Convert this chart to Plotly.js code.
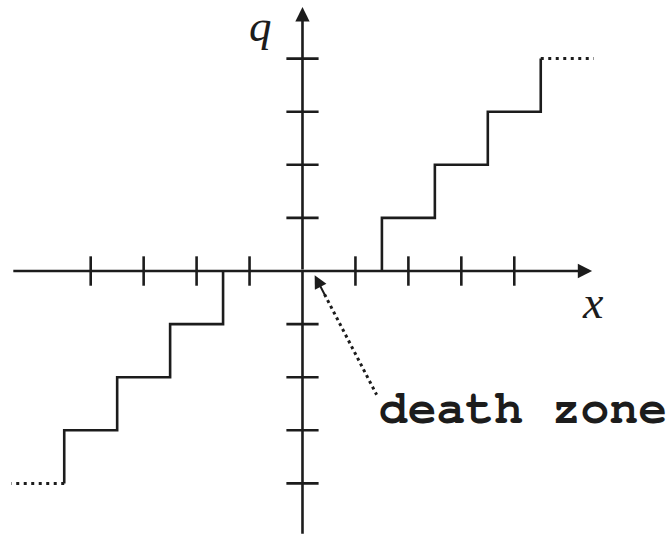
<!DOCTYPE html>
<html>
<head>
<meta charset="utf-8">
<script src="https://cdn.plot.ly/plotly-3.0.1.min.js"></script>
<style>
  html, body { margin: 0; padding: 0; background: #fff; }
  #chart { width: 670px; height: 537px; }
</style>
</head>
<body>
<div id="chart"></div>
<script>
// Quantizer staircase q(x) with a dead band around zero
const xTicks = [-4, -3, -2, -1, 1, 2, 3, 4];
const qTicks = [-4, -3, -2, -1, 1, 2, 3, 4];
const riseX = [1.5, 2.5, 3.5, 4.5];     // x where q steps up (positive side)
const riseLevel = [1, 2, 3, 4];         // q level after each step
const tailEnd = 5.5;                    // dotted continuation ends here
const xAxisSpan = [-5.49, 5.47];
const qAxisSpan = [-4.95, 4.97];
const zoneTip = [0.23, -0.08];          // arrow tip near the origin
const zoneTail = [1.40, -2.33];         // arrow tail by the label
const zoneLabel = 'death zone';

const ink = '#1c1c1c';
const lw = 2.6;

// staircase, positive side, drawn with horizontal-then-vertical steps
const posX = [riseX[0]].concat(riseX);
const posY = [0].concat(riseLevel);
const negX = posX.map(v => -v);
const negY = posY.map(v => -v);
const lastX = riseX[riseX.length - 1];
const lastQ = riseLevel[riseLevel.length - 1];

const traces = [
  { x: posX, y: posY, mode: 'lines', line: { shape: 'hv', color: ink, width: lw } },
  { x: negX, y: negY, mode: 'lines', line: { shape: 'hv', color: ink, width: lw } },
  { x: [lastX, tailEnd], y: [lastQ, lastQ], mode: 'lines',
    line: { color: ink, width: 3, dash: '3px,4.5px' } },
  { x: [-lastX, -tailEnd], y: [-lastQ, -lastQ], mode: 'lines',
    line: { color: ink, width: 3, dash: '3px,4.5px' } },
  // q axis line below the arrow
  { x: [0, 0], y: [qAxisSpan[0], 0], mode: 'lines', line: { color: ink, width: lw } },
  // tick marks crossing the axes
  { x: xTicks, y: xTicks.map(() => 0), mode: 'markers',
    marker: { symbol: 'line-ns-open', size: 21, color: ink, line: { color: ink, width: lw } } },
  { x: qTicks.map(() => 0), y: qTicks, mode: 'markers',
    marker: { symbol: 'line-ew-open', size: 23, color: ink, line: { color: ink, width: lw } } }
];

// dotted pointer from the label toward the origin
const headFrac = 0.16;
const dotStart = [zoneTip[0] + headFrac * (zoneTail[0] - zoneTip[0]),
                  zoneTip[1] + headFrac * (zoneTail[1] - zoneTip[1])];
traces.push({ x: [dotStart[0], zoneTail[0]], y: [dotStart[1], zoneTail[1]], mode: 'lines',
  line: { color: ink, width: 3, dash: '3px,3.5px' } });

const annotations = [
  // x axis with arrowhead
  { x: xAxisSpan[1], y: 0, ax: xAxisSpan[0], ay: 0, axref: 'x', ayref: 'y', xref: 'x', yref: 'y',
    text: '', showarrow: true, arrowhead: 2, arrowsize: 1.1, arrowwidth: lw, arrowcolor: ink, standoff: 0 },
  // q axis with arrowhead
  { x: 0, y: qAxisSpan[1], ax: 0, ay: 0, axref: 'x', ayref: 'y', xref: 'x', yref: 'y',
    text: '', showarrow: true, arrowhead: 2, arrowsize: 1.1, arrowwidth: lw, arrowcolor: ink, standoff: 0 },
  // pointer head
  { x: zoneTip[0], y: zoneTip[1], ax: dotStart[0] + 0.02, ay: dotStart[1] - 0.04, axref: 'x', ayref: 'y',
    xref: 'x', yref: 'y', text: '', showarrow: true, arrowhead: 2, arrowsize: 1.3, arrowwidth: 2,
    arrowcolor: ink, standoff: 0 },
  // axis names
  { x: -0.8, y: 1, xref: 'x', yref: 'paper', yanchor: 'top', borderpad: 0, text: 'q', showarrow: false,
    font: { family: 'Liberation Serif', size: 45, style: 'italic', color: ink } },
  { x: 5.49, y: -0.6, xref: 'x', yref: 'y', text: 'x', showarrow: false,
    font: { family: 'Liberation Serif', size: 46, style: 'italic', color: ink } },
  // label
  { x: 1.40, y: -2.60, xref: 'x', yref: 'y', text: zoneLabel, showarrow: false,
    xanchor: 'left', yanchor: 'middle',
    font: { family: 'Nimbus Mono PS, FreeMono, Courier New, Liberation Mono, monospace',
            size: 48, weight: 'bold', color: ink } }
];

const layout = {
  width: 670, height: 537,
  margin: { l: 0, r: 0, t: 0, b: 0 },
  paper_bgcolor: '#fff', plot_bgcolor: '#fff',
  showlegend: false,
  xaxis: { range: [-5.713, 6.941], visible: false, fixedrange: true },
  yaxis: { range: [-5.009, 5.104], visible: false, fixedrange: true },
  annotations: annotations
};

Plotly.newPlot('chart', traces, layout, { staticPlot: true });
</script>
</body>
</html>
